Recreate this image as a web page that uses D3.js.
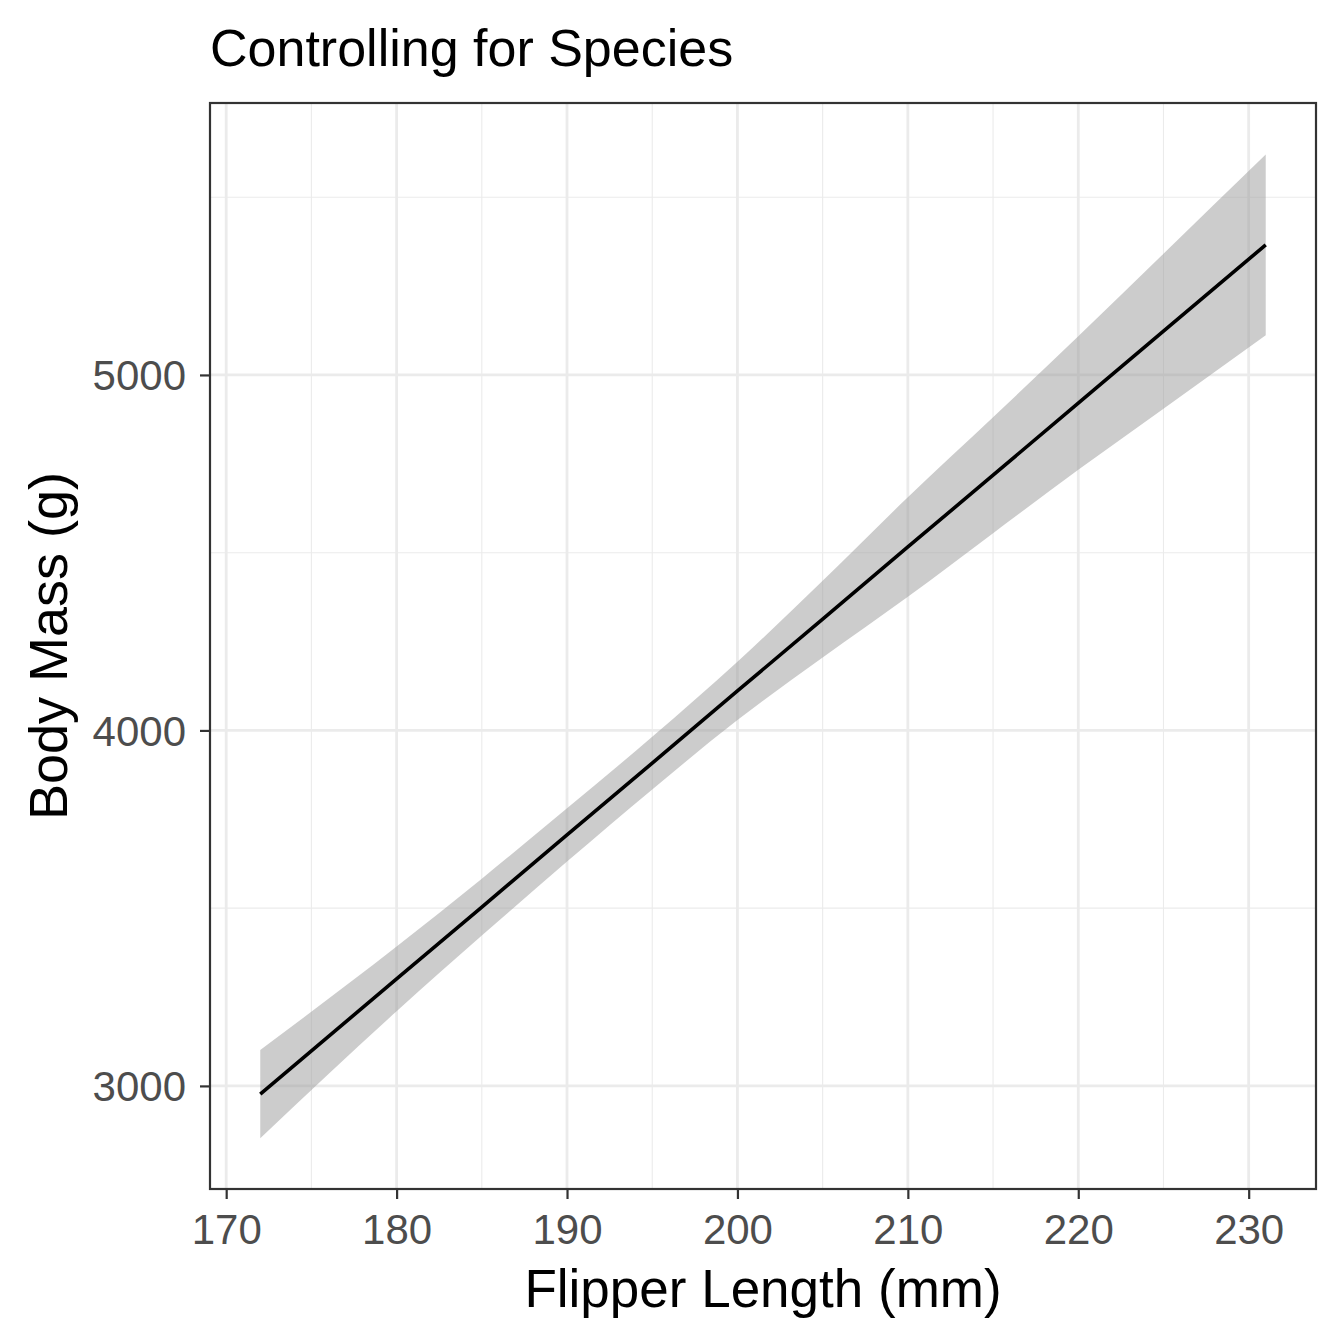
<!DOCTYPE html>
<html><head><meta charset="utf-8">
<script src="https://cdn.jsdelivr.net/npm/d3@7"></script>
<style>body{margin:0;background:#fff}svg{display:block}text{font-family:"Liberation Sans",Arial,sans-serif}</style>
</head><body>
<script>
const flipper = [172, 180, 185, 190, 195, 200, 205, 210, 215, 220, 225, 231];
const fitMass = [2977, 3301, 3503, 3706, 3908, 4111, 4313, 4516, 4718, 4921, 5123, 5366];
const lowerCI = [2853, 3210, 3423, 3631, 3834, 4029, 4205, 4376, 4555, 4733, 4905, 5112];
const upperCI = [3101, 3392, 3583, 3781, 3982, 4193, 4421, 4656, 4881, 5109, 5341, 5620];
const xTicks = [170, 180, 190, 200, 210, 220, 230];
const xMinor = [175, 185, 195, 205, 215, 225];
const yTicks = [3000, 4000, 5000];
const yMinor = [3500, 4500, 5500];
const titleText = "Controlling for Species";
const xLabel = "Flipper Length (mm)";
const yLabel = "Body Mass (g)";

const W = 1344, H = 1344;
const P = {l: 210, r: 1316, t: 103, b: 1189};
const svg = d3.select("body").append("svg").attr("width", W).attr("height", H);
const x = d3.scaleLinear().domain([169.05, 233.95]).range([P.l, P.r]);
const y = d3.scaleLinear().domain([2710, 5765]).range([P.b, P.t]);

const g = svg.append("g");
g.selectAll(".xm").data(xMinor).join("line").attr("x1", d => x(d)).attr("x2", d => x(d))
  .attr("y1", P.t).attr("y2", P.b).attr("stroke", "#EBEBEB").attr("stroke-width", 1.1);
g.selectAll(".ym").data(yMinor).join("line").attr("y1", d => y(d)).attr("y2", d => y(d))
  .attr("x1", P.l).attr("x2", P.r).attr("stroke", "#EBEBEB").attr("stroke-width", 1.1);
g.selectAll(".xM").data(xTicks).join("line").attr("x1", d => x(d)).attr("x2", d => x(d))
  .attr("y1", P.t).attr("y2", P.b).attr("stroke", "#EBEBEB").attr("stroke-width", 2.8);
g.selectAll(".yM").data(yTicks).join("line").attr("y1", d => y(d)).attr("y2", d => y(d))
  .attr("x1", P.l).attr("x2", P.r).attr("stroke", "#EBEBEB").attr("stroke-width", 2.8);

const idx = d3.range(flipper.length);
const area = d3.area().x(i => x(flipper[i])).y0(i => y(lowerCI[i])).y1(i => y(upperCI[i])).curve(d3.curveMonotoneX);
g.append("path").attr("d", area(idx)).attr("fill", "#999999").attr("fill-opacity", 0.5);
const line = d3.line().x(i => x(flipper[i])).y(i => y(fitMass[i]));
g.append("path").attr("d", line(idx)).attr("fill", "none").attr("stroke", "#000").attr("stroke-width", 3.6);

svg.append("rect").attr("x", P.l).attr("y", P.t).attr("width", P.r - P.l).attr("height", P.b - P.t)
  .attr("fill", "none").attr("stroke", "#333333").attr("stroke-width", 2.2);

const xAxis = svg.append("g").attr("transform", `translate(0,${P.b})`)
  .call(d3.axisBottom(x).tickValues(xTicks).tickSize(10).tickPadding(15).tickFormat(d3.format("d")));
const yAxis = svg.append("g").attr("transform", `translate(${P.l},0)`)
  .call(d3.axisLeft(y).tickValues(yTicks).tickSize(10).tickPadding(14).tickFormat(d3.format("d")));
[xAxis, yAxis].forEach(a => {
  a.select(".domain").remove();
  a.selectAll(".tick line").attr("stroke", "#333333").attr("stroke-width", 2.2);
  a.selectAll(".tick text").attr("fill", "#4D4D4D").style("font-size", "42px")
    .style("font-family", '"Liberation Sans",Arial,sans-serif');
});
yAxis.selectAll(".tick text").attr("dy", "0.35em");

svg.append("text").attr("x", P.l).attr("y", 66).text(titleText)
  .style("font-size", "52px").attr("fill", "#000");
svg.append("text").attr("x", (P.l + P.r) / 2).attr("y", 1307).attr("text-anchor", "middle")
  .text(xLabel).style("font-size", "53px").attr("fill", "#000");
svg.append("text").attr("transform", `translate(67,${(P.t + P.b) / 2}) rotate(-90)`)
  .attr("text-anchor", "middle").text(yLabel).style("font-size", "54px").attr("fill", "#000");
</script>
</body></html>
